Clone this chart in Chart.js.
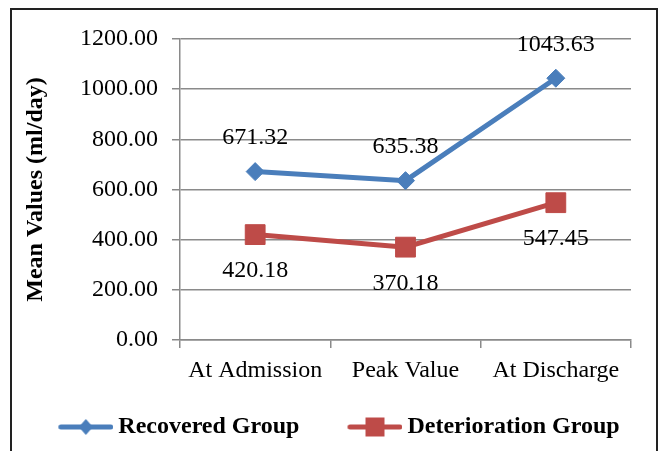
<!DOCTYPE html>
<html lang="en">
<head>
<meta charset="UTF-8">
<title>Mean Values</title>
<style>
    html, body { margin: 0; padding: 0; background: #fff; }
    .wrap { position: relative; width: 662px; height: 451px; overflow: hidden; }
    .frame {
        position: absolute; left: 10px; top: 8px;
        width: 644px; height: 480px;
        border: 2px solid #222;
    }
    canvas { position: absolute; left: 0; top: 0; }
</style>
</head>
<body>
<div class="wrap">
    <div class="frame"></div>
    <canvas id="chart" width="662" height="451"></canvas>
</div>
<script src="https://cdn.jsdelivr.net/npm/chart.js"></script>
<script>
    // data
    const stages = ['At Admission', 'Peak Value', 'At Discharge'];
    const recovered = [671.32, 635.38, 1043.63];
    const deterioration = [420.18, 370.18, 547.45];
    const yTicks = [0, 200, 400, 600, 800, 1000, 1200];

    const BLUE = '#4a7ebb';
    const RED = '#be4b48';
    const GRID = '#8a8a8a';
    const SERIF = "'Liberation Serif', 'Times New Roman', serif";

    // legend icon: line with the marker in the middle (line sits at the right end of the image)
    function legendIcon(color, shape) {
        const c = document.createElement('canvas');
        c.width = 100; c.height = 24;
        const g = c.getContext('2d');
        const cy = 12, x0 = 47.5, x1 = 97.5, cx = 72.5;
        g.strokeStyle = color;
        g.lineWidth = 5;
        g.lineCap = 'round';
        g.beginPath(); g.moveTo(x0, cy); g.lineTo(x1, cy); g.stroke();
        g.fillStyle = color;
        g.beginPath();
        if (shape === 'diamond') {
            g.moveTo(cx, cy - 8); g.lineTo(cx + 7, cy); g.lineTo(cx, cy + 8); g.lineTo(cx - 7, cy);
        } else {
            g.rect(cx - 9.5, cy - 9.5, 19, 19);
        }
        g.closePath(); g.fill();
        return c;
    }
    const icons = [legendIcon(BLUE, 'diamond'), legendIcon(RED, 'square')];

    // value labels above (recovered) / below (deterioration) the points
    const labelOffsets = [-33.5, 36.5];
    const valueLabels = {
        id: 'valueLabels',
        afterDatasetsDraw(chart) {
            const ctx = chart.ctx;
            ctx.save();
            ctx.font = '24px ' + SERIF;
            ctx.fillStyle = '#000';
            ctx.textAlign = 'center';
            ctx.textBaseline = 'middle';
            chart.data.datasets.forEach((ds, i) => {
                chart.getDatasetMeta(i).data.forEach((pt, j) => {
                    ctx.fillText(ds.data[j].toFixed(2), pt.x, pt.y + labelOffsets[i]);
                });
            });
            ctx.restore();
        }
    };

    new Chart(document.getElementById('chart'), {
        type: 'line',
        data: {
            labels: stages,
            datasets: [
                {
                    label: 'Recovered Group',
                    data: recovered,
                    borderColor: BLUE,
                    backgroundColor: BLUE,
                    borderWidth: 5,
                    pointStyle: 'rectRot',
                    pointRadius: 9,
                    pointBorderWidth: 1,
                    tension: 0
                },
                {
                    label: 'Deterioration Group',
                    data: deterioration,
                    borderColor: RED,
                    backgroundColor: RED,
                    borderWidth: 5,
                    pointStyle: 'rect',
                    pointRadius: 14,
                    pointBorderWidth: 1,
                    tension: 0
                }
            ]
        },
        options: {
            responsive: false,
            animation: false,
            layout: {
                padding: { top: 39, left: 9, right: 31, bottom: 2 }
            },
            plugins: {
                tooltip: { enabled: false },
                legend: {
                    position: 'bottom',
                    labels: {
                        usePointStyle: true,
                        pointStyleWidth: 86,
                        padding: 10,
                        color: '#000',
                        font: { family: SERIF, size: 24, weight: 'bold' },
                        generateLabels(chart) {
                            const items = Chart.defaults.plugins.legend.labels.generateLabels(chart);
                            items.forEach((it, i) => { it.pointStyle = icons[i]; });
                            return items;
                        }
                    }
                }
            },
            scales: {
                x: {
                    offset: true,
                    afterFit: s => { s.height = 65; },
                    grid: {
                        offset: true,
                        drawOnChartArea: false,
                        color: GRID,
                        lineWidth: 1.5,
                        tickLength: 8
                    },
                    border: { color: GRID, width: 1.5 },
                    ticks: {
                        color: '#000',
                        padding: 8,
                        font: { family: SERIF, size: 24 }
                    }
                },
                y: {
                    min: 0,
                    max: 1200,
                    afterFit: s => { s.width = 171; },
                    afterBuildTicks: s => { s.ticks = yTicks.map(v => ({ value: v })); },
                    grid: {
                        color: GRID,
                        lineWidth: 1.5,
                        tickLength: 8
                    },
                    border: { color: GRID, width: 1.5 },
                    ticks: {
                        color: '#000',
                        padding: 14,
                        font: { family: SERIF, size: 24 },
                        callback: v => v.toFixed(2)
                    },
                    title: {
                        display: true,
                        text: 'Mean Values (ml/day)',
                        color: '#000',
                        padding: { top: 12.6, bottom: 0 },
                        font: { family: SERIF, size: 24, weight: 'bold' }
                    }
                }
            }
        },
        plugins: [valueLabels]
    });
</script>
</body>
</html>
